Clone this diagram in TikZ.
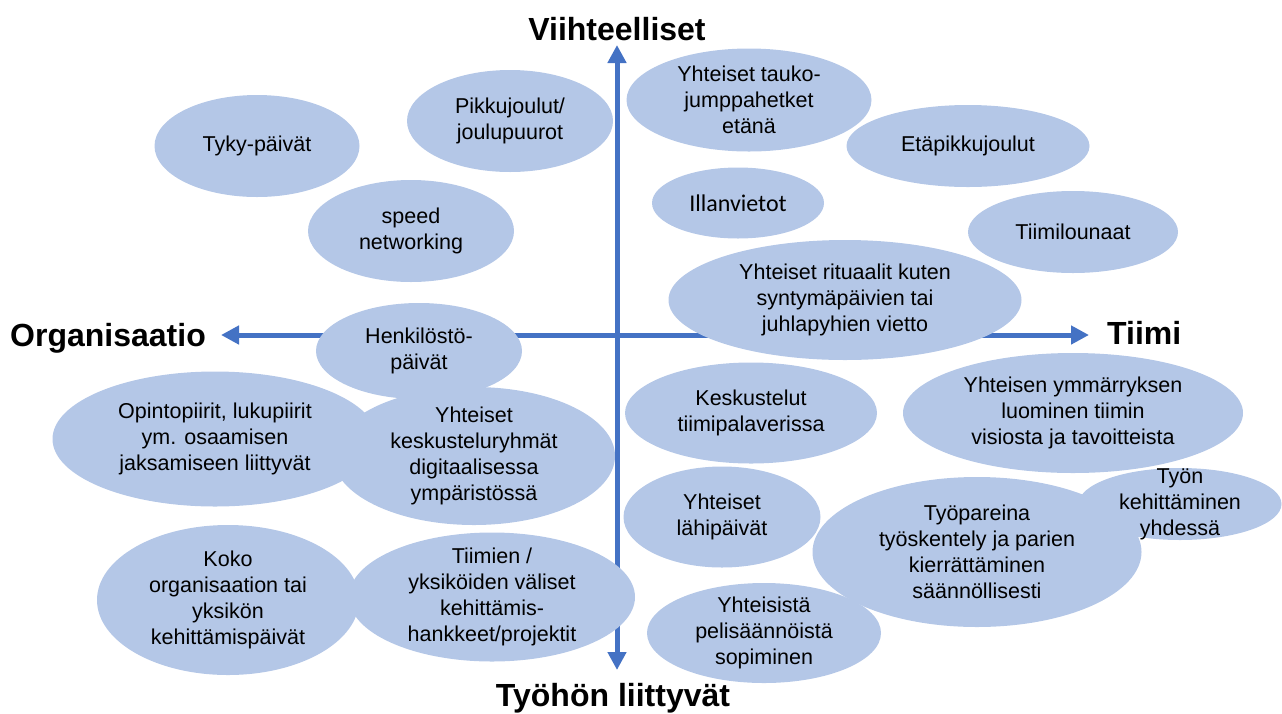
\documentclass[tikz,border=0pt]{standalone}
\usepackage{fontspec}
\setmainfont{Liberation Sans}
\newfontfamily\calibri{Carlito}
\usetikzlibrary{arrows.meta,shapes.geometric}
\definecolor{bubfill}{HTML}{B4C7E7}
\definecolor{axisblue}{HTML}{4472C4}

\begin{document}
\begin{tikzpicture}[x=1pt,y=-1pt,
  bub/.style={ellipse,fill=bubfill,inner sep=0pt},
  txt/.style={align=center,inner sep=0pt,font=\fontsize{21.5}{26}\selectfont},
  title/.style={font=\fontsize{32}{38}\selectfont\bfseries,inner sep=0pt},
  axis/.style={draw=axisblue,line width=5pt,{Triangle[length=18pt,width=18pt]}-{Triangle[length=18pt,width=18pt]}}]
\useasboundingbox (0,0) rectangle (1282,713);
\coordinate (axw) at (221,335);
\coordinate (axe) at (1089,335);
\coordinate (axn) at (617,45);
\coordinate (axs) at (617,670);
\draw[axis] (axw) -- (axe);
\draw[axis] (axn) -- (axs);
\node[bub,minimum width=205,minimum height=102,label={[txt,name=tykyt]center:Tyky-päivät}] (tyky) at (257,146) {};
\node[bub,minimum width=206,minimum height=102,label={[txt,name=pikkut]center:{Pikkujoulut/\\joulupuurot}}] (pikku) at (510,121) {};
\node[bub,minimum width=206,minimum height=102,label={[txt,name=speedt]center:{speed\\networking}}] (speed) at (411,231) {};
\node[bub,minimum width=245,minimum height=103,label={[txt,name=taukot]center:{Yhteiset tauko-\\jumppahetket\\etänä}}] (tauko) at (749,100) {};
\node[bub,minimum width=243,minimum height=82,label={[txt,name=etat]center:Etäpikkujoulut}] (eta) at (968,146) {};
\node[bub,minimum width=172,minimum height=71,label={[txt,font=\calibri\fontsize{24}{28}\selectfont,name=illant]center:Illanvietot}] (illan) at (738,203) {};
\node[bub,minimum width=210,minimum height=82,label={[txt,name=lounast]center:Tiimilounaat}] (lounas) at (1073,232) {};
\node[bub,minimum width=353,minimum height=120,label={[txt,name=ritut]center:{Yhteiset rituaalit kuten\\syntymäpäivien tai\\juhlapyhien vietto}}] (ritu) at (845,300) {};
\node[bub,minimum width=206,minimum height=96,label={[txt,name=henkt]center:{Henkilöstö-\\päivät}}] (henk) at (419,351) {};
\node[bub,minimum width=325,minimum height=135,label={[txt,name=opintot]center:{Opintopiirit, lukupiirit\\ym. osaamisen\\jaksamiseen liittyvät}}] (opinto) at (215,439) {};
\node[bub,minimum width=282,minimum height=138,label={[txt,name=ryhmat]center:{Yhteiset\\keskusteluryhmät\\digitaalisessa\\ympäristössä}}] (ryhma) at (474,456) {};
\node[bub,minimum width=262,minimum height=150,label={[txt,name=kokot]center:{Koko\\organisaation tai\\yksikön\\kehittämispäivät}}] (koko) at (228,600) {};
\node[bub,minimum width=286,minimum height=129,label={[txt,name=hanket]center:{Tiimien /\\yksiköiden väliset\\kehittämis-\\hankkeet/projektit}}] (hanke) at (492,597) {};
\node[bub,minimum width=252,minimum height=101,label={[txt,name=palavt]center:{Keskustelut\\tiimipalaverissa}}] (palav) at (751,413) {};
\node[bub,minimum width=197,minimum height=101,label={[txt,name=lahit]center:{Yhteiset\\lähipäivät}}] (lahi) at (722,517) {};
\node[bub,minimum width=234,minimum height=100,label={[txt,name=pelit]center:{Yhteisistä\\pelisäännöistä\\sopiminen}}] (peli) at (764,633) {};
\node[bub,minimum width=340,minimum height=120,label={[txt,name=visiot]center:{Yhteisen ymmärryksen\\luominen tiimin\\visiosta ja tavoitteista}}] (visio) at (1073,413) {};
\node[bub,minimum width=329,minimum height=150,label={[txt,name=parit]center:{Työpareina\\työskentely ja parien\\kierrättäminen\\säännöllisesti}}] (pari) at (977,552) {};
\node[bub,minimum width=203,minimum height=72,label={[txt,name=tyont]center:{Työn\\kehittäminen\\yhdessä}}] (tyon) at (1180,504) {};
\node[title,anchor=base] (viih) at (617,40) {Viihteelliset};
\node[title,anchor=base] (tyoh) at (613,706) {Työhön liittyvät};
\node[title,anchor=base west] (org) at (10,346) {Organisaatio};
\node[title,anchor=base west] (tiimi) at (1107,344) {Tiimi};
\end{tikzpicture}
\end{document}
